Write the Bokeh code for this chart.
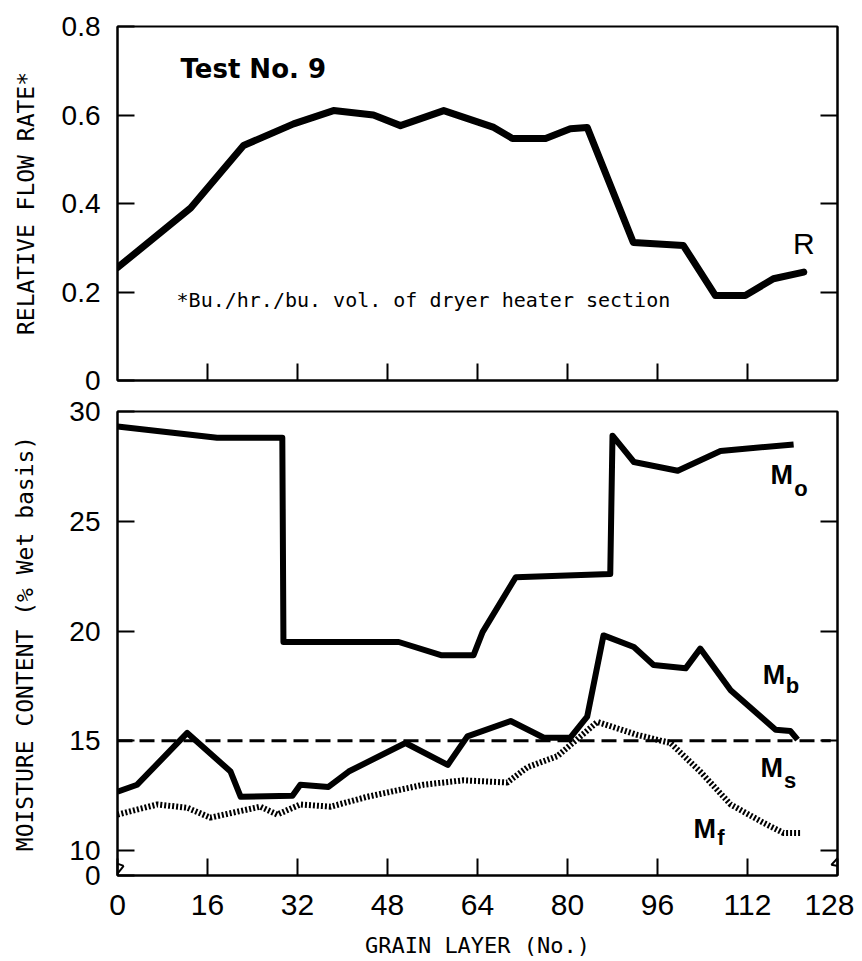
from bokeh.plotting import figure
from bokeh.layouts import column
from bokeh.models import FixedTicker, LinearAxis, Label, Arrow, Range1d
from bokeh.embed import file_html
from bokeh.resources import INLINE

# ---------------- data ----------------
# Relative flow rate R (top panel)
r_x = [0, 13, 22.4, 31.3, 38.4, 45.5, 50.3, 58, 66.9, 70.2, 76.1, 80.5, 83.5,
       91.7, 100.6, 106.3, 111.6, 116.6, 122]
r_y = [0.255, 0.39, 0.531, 0.58, 0.61, 0.60, 0.576, 0.61, 0.572, 0.547, 0.547,
       0.569, 0.572, 0.312, 0.305, 0.192, 0.192, 0.23, 0.245]

# Moisture contents (bottom panel)
mo_x = [0, 17.7, 29.3, 29.5, 50, 57.5, 63.3, 64.9, 70.8, 87.6, 88, 91.8,
        99.6, 107.2, 120.2]
mo_y = [29.32, 28.8, 28.8, 19.5, 19.5, 18.9, 18.9, 19.95, 22.45, 22.6, 28.9,
        27.7, 27.3, 28.2, 28.5]

mb_x = [0, 3.5, 12.4, 20.1, 21.9, 31.1, 32.5, 37.5, 41.1, 51.2, 58.7, 62.2,
        69.9, 75.8, 80.5, 83.5, 86.4, 91.8, 95.3, 101, 103.6, 109, 117,
        119.6, 120.9]
mb_y = [12.68, 13.0, 15.36, 13.6, 12.45, 12.5, 13.0, 12.9, 13.6, 14.9, 13.9,
        15.2, 15.9, 15.14, 15.14, 16.1, 19.8, 19.27, 18.45, 18.3, 19.2, 17.3,
        15.5, 15.45, 15.05]

mf_x = [0, 7.1, 12.4, 16.5, 25.4, 28.4, 32.5, 37.9, 44.4, 54.4, 61.5, 69.3,
        72.9, 78.2, 85.3, 92.4, 98.3, 103.6, 109, 114.8, 118.4, 121.4]
mf_y = [11.64, 12.1, 11.95, 11.5, 12.0, 11.64, 12.1, 12.0, 12.45, 13.0, 13.2,
        13.1, 13.8, 14.3, 15.86, 15.27, 14.9, 13.6, 12.1, 11.27, 10.8, 10.8]

ms_x = [0, 126.8]
ms_y = [15, 15]

x_ticks = [0, 16, 32, 48, 64, 80, 96, 112, 128]
top_y_ticks = [0, 0.2, 0.4, 0.6, 0.8]
top_y_labels = ["0", "0.2", "0.4", "0.6", "0.8"]
bot_y_bottom = 8.864           # broken axis: bottom of frame labelled "0"
bot_y_ticks = [bot_y_bottom, 10, 15, 20, 25, 30]
bot_y_labels = ["0", "10", "15", "20", "25", "30"]

NUM_FONT = "Liberation Sans"
TXT_FONT = "DejaVu Sans Mono"


def style_axis(ax, ticks, labels=None, size="28px"):
    ax.ticker = FixedTicker(ticks=ticks)
    ax.major_tick_in = 17
    ax.major_tick_out = 0
    ax.major_tick_line_width = 2
    ax.minor_tick_line_color = None
    ax.axis_line_width = 2
    ax.axis_line_color = "black"
    ax.major_tick_line_color = "black"
    ax.major_label_text_font = NUM_FONT
    ax.major_label_text_font_size = size
    ax.major_label_text_color = "black"
    ax.axis_label_text_font = TXT_FONT
    ax.axis_label_text_font_size = "22px"
    ax.axis_label_text_font_style = "normal"
    ax.axis_label_text_color = "black"
    if labels is not None:
        ax.major_label_overrides = {float(t): l for t, l in zip(ticks, labels)}


# ---------------- top panel ----------------
p1 = figure(width=854, height=395, x_range=Range1d(0, 128), y_range=Range1d(0, 0.8),
            output_backend="svg", toolbar_location=None,
            min_border_left=117, min_border_right=17, min_border_top=26,
            min_border_bottom=15)
p1.grid.visible = False
p1.outline_line_color = "black"
p1.outline_line_width = 2

style_axis(p1.xaxis[0], x_ticks[1:-1], ["" for _ in x_ticks[1:-1]])
style_axis(p1.yaxis[0], top_y_ticks, top_y_labels)
p1.yaxis[0].major_label_standoff = 17
p1.yaxis[0].axis_label = "RELATIVE FLOW RATE*"
p1.yaxis[0].axis_label_text_font_size = "23px"
p1.yaxis[0].axis_label_standoff = 20

r_ax = LinearAxis()
style_axis(r_ax, top_y_ticks[1:-1], ["" for _ in top_y_ticks[1:-1]])
p1.add_layout(r_ax, "right")

p1.line(r_x, r_y, line_width=7, color="black", line_join="round", line_cap="round")

p1.add_layout(Label(x=11.2, y=0.705, text="Test No. 9", text_font="DejaVu Sans",
                    text_font_size="26px", text_font_style="bold",
                    text_baseline="middle", text_align="left", text_color="black"))
p1.add_layout(Label(x=10.5, y=0.181, text="*Bu./hr./bu. vol. of dryer heater section",
                    text_font=TXT_FONT, text_font_size="20px", text_baseline="middle",
                    text_align="left", text_color="black"))
p1.add_layout(Label(x=122, y=0.31, text="R", text_font=NUM_FONT, text_font_size="30px",
                    text_baseline="middle", text_align="center", text_color="black"))

# ---------------- bottom panel ----------------
p2 = figure(width=854, height=565, x_range=Range1d(0, 128),
            y_range=Range1d(bot_y_bottom, 30),
            output_backend="svg", toolbar_location=None,
            min_border_left=117, min_border_right=17, min_border_top=16,
            min_border_bottom=84)
p2.grid.visible = False
p2.outline_line_color = "black"
p2.outline_line_width = 2

style_axis(p2.xaxis[0], x_ticks, size="30px")
p2.xaxis[0].major_label_standoff = 19
p2.xaxis[0].axis_label = "GRAIN LAYER (No.)"
p2.xaxis[0].axis_label_standoff = 15

style_axis(p2.yaxis[0], bot_y_ticks, bot_y_labels)
p2.yaxis[0].major_label_standoff = 17
p2.yaxis[0].axis_label = "MOISTURE CONTENT (% Wet basis)"
p2.yaxis[0].axis_label_text_font_size = "23px"
p2.yaxis[0].axis_label_standoff = 28

r_ax2 = LinearAxis()
style_axis(r_ax2, [10, 15, 20, 25], ["", "", "", ""])
p2.add_layout(r_ax2, "right")

p2.line(ms_x, ms_y, line_width=3, color="black", line_dash="15 7")
p2.line(mf_x, mf_y, line_width=6, color="black", line_dash="2 2")
p2.line(mb_x, mb_y, line_width=6, color="black", line_join="round")
p2.line(mo_x, mo_y, line_width=6, color="black", line_join="round")

# curve labels with subscripts
def mlabel(p, x, y, sub, sx, sy):
    p.add_layout(Label(x=x, y=y, text="M", text_font=NUM_FONT, text_font_size="27px",
                       text_font_style="bold",
                       text_baseline="middle", text_align="left", text_color="black"))
    p.add_layout(Label(x=sx, y=sy, text=sub, text_font=NUM_FONT, text_font_size="22px",
                       text_font_style="bold",
                       text_baseline="middle", text_align="left", text_color="black"))

mlabel(p2, 116.1, 27.1, "o", 120.3, 26.5)
mlabel(p2, 114.7, 18.0, "b", 118.8, 17.5)
mlabel(p2, 114.3, 13.77, "s", 118.5, 13.2)
mlabel(p2, 102.4, 11.0, "f", 106.6, 10.6)

# axis break marks
for xs, ys in [((0, -1.1), (9.8, 9.5)), ((-1.1, 1.1), (9.5, 9.3)), ((1.1, 0), (9.3, 8.95)),
               ((128, 126.9), (9.65, 9.35)), ((126.9, 129.1), (9.35, 9.25)), ((129.1, 128), (9.25, 8.95))]:
    p2.add_layout(Arrow(end=None, x_start=xs[0], y_start=ys[0], x_end=xs[1], y_end=ys[1],
                        line_width=2, line_color="black"))

layout = column(p1, p2)
open("out.html", "w").write(file_html(layout, INLINE))
